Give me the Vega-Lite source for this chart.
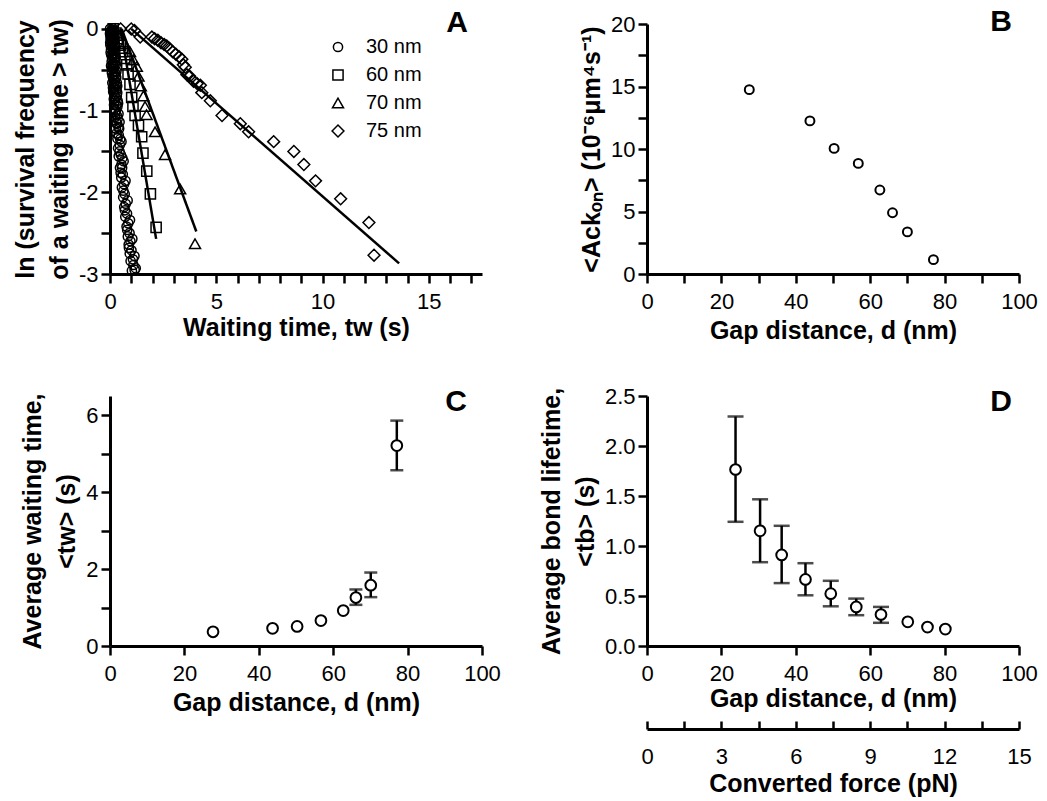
{
  "$schema": "https://vega.github.io/schema/vega-lite/v6.json",
  "padding": {"left": 13, "top": 7, "right": 5, "bottom": 5},
  "background": "white",
  "bounds": "flush",
  "columns": 2,
  "spacing": {"row": 122, "column": 165},
  "config": {
    "font": "Liberation Sans",
    "view": {"stroke": null},
    "axis": {
      "domainColor": "black", "domainWidth": 3, "tickColor": "black", "tickWidth": 2.5, "tickSize": 9,
      "labelFontSize": 22, "labelColor": "black", "labelPadding": 5, "labelFont": "Liberation Sans",
      "titleFontSize": 25, "titleFontWeight": "bold", "titleColor": "black", "titleFont": "Liberation Sans",
      "grid": false, "labelFlush": false, "labelOverlap": false, "titleLineHeight": 34, "titlePadding": 10
    },
    "axisX": {"labelPadding": 8, "titlePadding": 6},
    "axisY": {"labelPadding": 3, "titlePadding": 6},
    "title": {"fontSize": 30, "fontWeight": "bold", "anchor": "end", "frame": "group", "baseline": "alphabetic", "color": "black", "font": "Liberation Sans"}
  },
  "datasets": {
    "surv": [
      {"series": "30 nm", "t": 0.00, "y": 0.00}, {"series": "30 nm", "t": 0.10, "y": -0.01}, {"series": "30 nm", "t": 0.20, "y": -0.02},
      {"series": "30 nm", "t": 0.05, "y": -0.02}, {"series": "30 nm", "t": 0.15, "y": -0.05}, {"series": "30 nm", "t": 0.01, "y": -0.04},
      {"series": "30 nm", "t": 0.11, "y": -0.07}, {"series": "30 nm", "t": 0.07, "y": -0.09}, {"series": "30 nm", "t": 0.22, "y": -0.10},
      {"series": "30 nm", "t": 0.17, "y": -0.12}, {"series": "30 nm", "t": 0.03, "y": -0.13}, {"series": "30 nm", "t": 0.13, "y": -0.17},
      {"series": "30 nm", "t": 0.09, "y": -0.19}, {"series": "30 nm", "t": 0.24, "y": -0.21}, {"series": "30 nm", "t": 0.20, "y": -0.23},
      {"series": "30 nm", "t": 0.05, "y": -0.25}, {"series": "30 nm", "t": 0.16, "y": -0.30}, {"series": "30 nm", "t": 0.11, "y": -0.33},
      {"series": "30 nm", "t": 0.27, "y": -0.35}, {"series": "30 nm", "t": 0.22, "y": -0.38}, {"series": "30 nm", "t": 0.08, "y": -0.40},
      {"series": "30 nm", "t": 0.19, "y": -0.46}, {"series": "30 nm", "t": 0.14, "y": -0.49}, {"series": "30 nm", "t": 0.30, "y": -0.52},
      {"series": "30 nm", "t": 0.26, "y": -0.55}, {"series": "30 nm", "t": 0.12, "y": -0.58}, {"series": "30 nm", "t": 0.23, "y": -0.64},
      {"series": "30 nm", "t": 0.18, "y": -0.67}, {"series": "30 nm", "t": 0.34, "y": -0.70}, {"series": "30 nm", "t": 0.30, "y": -0.74},
      {"series": "30 nm", "t": 0.15, "y": -0.77}, {"series": "30 nm", "t": 0.27, "y": -0.84}, {"series": "30 nm", "t": 0.24, "y": -0.88},
      {"series": "30 nm", "t": 0.38, "y": -0.91}, {"series": "30 nm", "t": 0.35, "y": -0.95}, {"series": "30 nm", "t": 0.20, "y": -0.98},
      {"series": "30 nm", "t": 0.25, "y": -1.02}, {"series": "30 nm", "t": 0.32, "y": -1.06}, {"series": "30 nm", "t": 0.36, "y": -1.10},
      {"series": "30 nm", "t": 0.45, "y": -1.14}, {"series": "30 nm", "t": 0.28, "y": -1.22}, {"series": "30 nm", "t": 0.41, "y": -1.30},
      {"series": "30 nm", "t": 0.54, "y": -1.38}, {"series": "30 nm", "t": 0.38, "y": -1.46}, {"series": "30 nm", "t": 0.51, "y": -1.54},
      {"series": "30 nm", "t": 0.64, "y": -1.62}, {"series": "30 nm", "t": 0.47, "y": -1.70}, {"series": "30 nm", "t": 0.60, "y": -1.78},
      {"series": "30 nm", "t": 0.73, "y": -1.86}, {"series": "30 nm", "t": 0.56, "y": -1.94}, {"series": "30 nm", "t": 0.69, "y": -2.02},
      {"series": "30 nm", "t": 0.83, "y": -2.10}, {"series": "30 nm", "t": 0.67, "y": -2.18}, {"series": "30 nm", "t": 0.80, "y": -2.26},
      {"series": "30 nm", "t": 0.94, "y": -2.34}, {"series": "30 nm", "t": 0.78, "y": -2.42}, {"series": "30 nm", "t": 0.92, "y": -2.50},
      {"series": "30 nm", "t": 1.05, "y": -2.57}, {"series": "30 nm", "t": 0.88, "y": -2.64}, {"series": "30 nm", "t": 1.01, "y": -2.71},
      {"series": "30 nm", "t": 1.15, "y": -2.78}, {"series": "30 nm", "t": 0.97, "y": -2.84}, {"series": "30 nm", "t": 1.10, "y": -2.89},
      {"series": "30 nm", "t": 1.21, "y": -2.93}, {"series": "30 nm", "t": 1.03, "y": -2.96},
      {"series": "30 nm", "t": 0.06, "y": -0.03}, {"series": "30 nm", "t": 0.18, "y": -0.06}, {"series": "30 nm", "t": 0.14, "y": -0.08},
      {"series": "30 nm", "t": 0.04, "y": -0.11}, {"series": "30 nm", "t": 0.19, "y": -0.15}, {"series": "30 nm", "t": 0.10, "y": -0.16},
      {"series": "30 nm", "t": 0.02, "y": -0.20}, {"series": "30 nm", "t": 0.25, "y": -0.27}, {"series": "30 nm", "t": 0.14, "y": -0.27},
      {"series": "30 nm", "t": 0.06, "y": -0.32}, {"series": "30 nm", "t": 0.21, "y": -0.34}, {"series": "30 nm", "t": 0.16, "y": -0.42},
      {"series": "30 nm", "t": 0.27, "y": -0.44}, {"series": "30 nm", "t": 0.09, "y": -0.48}, {"series": "30 nm", "t": 0.21, "y": -0.52},
      {"series": "30 nm", "t": 0.29, "y": -0.60}, {"series": "30 nm", "t": 0.16, "y": -0.62}, {"series": "30 nm", "t": 0.26, "y": -0.69},
      {"series": "30 nm", "t": 0.21, "y": -0.80}, {"series": "30 nm", "t": 0.32, "y": -0.82}, {"series": "30 nm", "t": 0.18, "y": -0.86},
      {"series": "30 nm", "t": 0.30, "y": -0.93}, {"series": "30 nm", "t": 0.28, "y": -1.00}, {"series": "30 nm", "t": 0.40, "y": -1.04},
      {"series": "30 nm", "t": 0.34, "y": -1.16}, {"series": "30 nm", "t": 0.40, "y": -1.20}, {"series": "30 nm", "t": 0.35, "y": -1.34},
      {"series": "30 nm", "t": 0.48, "y": -1.35}, {"series": "30 nm", "t": 0.45, "y": -1.50}, {"series": "30 nm", "t": 0.58, "y": -1.58},
      {"series": "30 nm", "t": 0.54, "y": -1.66}, {"series": "30 nm", "t": 0.53, "y": -1.82}, {"series": "30 nm", "t": 0.66, "y": -1.90},
      {"series": "30 nm", "t": 0.62, "y": -2.06}, {"series": "30 nm", "t": 0.74, "y": -2.14}, {"series": "30 nm", "t": 0.72, "y": -2.30},
      {"series": "30 nm", "t": 0.86, "y": -2.38}, {"series": "30 nm", "t": 0.84, "y": -2.54}, {"series": "30 nm", "t": 0.96, "y": -2.60},
      {"series": "30 nm", "t": 0.93, "y": -2.75}, {"series": "30 nm", "t": 1.08, "y": -2.82}, {"series": "30 nm", "t": 1.16, "y": -2.95},
      {"series": "30 nm", "t": 0.00, "y": -0.06}, {"series": "30 nm", "t": 0.08, "y": -0.05}, {"series": "30 nm", "t": 0.12, "y": -0.03},
      {"series": "30 nm", "t": 0.16, "y": -0.09}, {"series": "30 nm", "t": 0.02, "y": -0.08}, {"series": "30 nm", "t": 0.21, "y": -0.14},
      {"series": "30 nm", "t": 0.06, "y": -0.15}, {"series": "30 nm", "t": 0.12, "y": -0.22}, {"series": "30 nm", "t": 0.23, "y": -0.18},
      {"series": "30 nm", "t": 0.01, "y": -0.17}, {"series": "30 nm", "t": 0.18, "y": -0.26}, {"series": "30 nm", "t": 0.03, "y": -0.29},
      {"series": "30 nm", "t": 0.10, "y": -0.36}, {"series": "30 nm", "t": 0.24, "y": -0.31}, {"series": "30 nm", "t": 0.13, "y": -0.44},
      {"series": "30 nm", "t": 0.25, "y": -0.41}, {"series": "30 nm", "t": 0.05, "y": -0.45}, {"series": "30 nm", "t": 0.18, "y": -0.56},
      {"series": "30 nm", "t": 0.28, "y": -0.58}, {"series": "30 nm", "t": 0.09, "y": -0.54}, {"series": "30 nm", "t": 0.21, "y": -0.72},
      {"series": "30 nm", "t": 0.32, "y": -0.66}, {"series": "30 nm", "t": 0.11, "y": -0.66}, {"series": "30 nm", "t": 0.14, "y": -0.72},
      {"series": "30 nm", "t": 0.19, "y": -0.93}, {"series": "30 nm", "t": 0.34, "y": -0.78}, {"series": "30 nm", "t": 0.36, "y": -0.88},
      {"series": "30 nm", "t": 0.23, "y": -1.08}, {"series": "30 nm", "t": 0.30, "y": -1.15}, {"series": "30 nm", "t": 0.43, "y": -1.22},
      {"series": "30 nm", "t": 0.31, "y": -1.28}, {"series": "30 nm", "t": 0.46, "y": -1.42}, {"series": "30 nm", "t": 0.41, "y": -1.56},
      {"series": "30 nm", "t": 0.57, "y": -1.70}, {"series": "30 nm", "t": 0.50, "y": -1.76}, {"series": "30 nm", "t": 0.63, "y": -1.98},
      {"series": "30 nm", "t": 0.70, "y": -2.22}, {"series": "30 nm", "t": 0.81, "y": -2.46}, {"series": "30 nm", "t": 0.89, "y": -2.68},
      {"series": "60 nm", "t": 0.15, "y": 0.00}, {"series": "60 nm", "t": 0.28, "y": -0.05}, {"series": "60 nm", "t": 0.40, "y": -0.12},
      {"series": "60 nm", "t": 0.50, "y": -0.20}, {"series": "60 nm", "t": 0.60, "y": -0.28}, {"series": "60 nm", "t": 0.70, "y": -0.36},
      {"series": "60 nm", "t": 0.79, "y": -0.44}, {"series": "60 nm", "t": 0.85, "y": -0.55}, {"series": "60 nm", "t": 0.94, "y": -0.68},
      {"series": "60 nm", "t": 1.02, "y": -0.84}, {"series": "60 nm", "t": 1.08, "y": -0.95}, {"series": "60 nm", "t": 1.18, "y": -1.06},
      {"series": "60 nm", "t": 1.34, "y": -1.18}, {"series": "60 nm", "t": 1.49, "y": -1.32}, {"series": "60 nm", "t": 1.55, "y": -1.52},
      {"series": "60 nm", "t": 1.73, "y": -1.74}, {"series": "60 nm", "t": 1.90, "y": -2.02}, {"series": "60 nm", "t": 2.17, "y": -2.43},
      {"series": "70 nm", "t": 0.25, "y": 0.00}, {"series": "70 nm", "t": 0.45, "y": -0.08}, {"series": "70 nm", "t": 0.70, "y": -0.18},
      {"series": "70 nm", "t": 0.94, "y": -0.28}, {"series": "70 nm", "t": 1.10, "y": -0.38}, {"series": "70 nm", "t": 1.26, "y": -0.46},
      {"series": "70 nm", "t": 1.34, "y": -0.58}, {"series": "70 nm", "t": 1.45, "y": -0.70}, {"series": "70 nm", "t": 1.57, "y": -0.82},
      {"series": "70 nm", "t": 1.65, "y": -0.95}, {"series": "70 nm", "t": 1.72, "y": -1.05}, {"series": "70 nm", "t": 2.12, "y": -1.26},
      {"series": "70 nm", "t": 2.59, "y": -1.54}, {"series": "70 nm", "t": 3.30, "y": -1.96}, {"series": "70 nm", "t": 4.00, "y": -2.63},
      {"series": "75 nm", "t": 0.50, "y": 0.00}, {"series": "75 nm", "t": 1.00, "y": 0.00}, {"series": "75 nm", "t": 1.15, "y": -0.02},
      {"series": "75 nm", "t": 1.42, "y": -0.10}, {"series": "75 nm", "t": 1.97, "y": -0.10}, {"series": "75 nm", "t": 2.10, "y": -0.12},
      {"series": "75 nm", "t": 2.25, "y": -0.14}, {"series": "75 nm", "t": 2.40, "y": -0.17}, {"series": "75 nm", "t": 2.55, "y": -0.19},
      {"series": "75 nm", "t": 2.67, "y": -0.21}, {"series": "75 nm", "t": 2.80, "y": -0.24}, {"series": "75 nm", "t": 2.95, "y": -0.28},
      {"series": "75 nm", "t": 3.10, "y": -0.31}, {"series": "75 nm", "t": 3.25, "y": -0.34}, {"series": "75 nm", "t": 3.38, "y": -0.37},
      {"series": "75 nm", "t": 3.45, "y": -0.44}, {"series": "75 nm", "t": 3.54, "y": -0.47}, {"series": "75 nm", "t": 3.62, "y": -0.56},
      {"series": "75 nm", "t": 3.75, "y": -0.58}, {"series": "75 nm", "t": 3.93, "y": -0.64}, {"series": "75 nm", "t": 4.10, "y": -0.67},
      {"series": "75 nm", "t": 4.25, "y": -0.69}, {"series": "75 nm", "t": 4.32, "y": -0.78}, {"series": "75 nm", "t": 4.72, "y": -0.88},
      {"series": "75 nm", "t": 5.27, "y": -1.06}, {"series": "75 nm", "t": 6.13, "y": -1.16}, {"series": "75 nm", "t": 6.52, "y": -1.26},
      {"series": "75 nm", "t": 7.70, "y": -1.38}, {"series": "75 nm", "t": 8.65, "y": -1.50}, {"series": "75 nm", "t": 9.12, "y": -1.66},
      {"series": "75 nm", "t": 9.67, "y": -1.86}, {"series": "75 nm", "t": 10.85, "y": -2.08}, {"series": "75 nm", "t": 12.18, "y": -2.37},
      {"series": "75 nm", "t": 12.42, "y": -2.77}
    ],
    "fits": [
      {"series": "60 nm", "t": 0.50, "y": 0.00}, {"series": "60 nm", "t": 2.17, "y": -2.57},
      {"series": "70 nm", "t": 0.55, "y": 0.00}, {"series": "70 nm", "t": 4.06, "y": -2.48},
      {"series": "75 nm", "t": 1.00, "y": 0.00}, {"series": "75 nm", "t": 13.60, "y": -2.87}
    ],
    "kon": [
      {"d": 27.5, "v": 14.75}, {"d": 43.8, "v": 12.25}, {"d": 50.3, "v": 10.05}, {"d": 56.8, "v": 8.85},
      {"d": 62.6, "v": 6.72}, {"d": 66.0, "v": 4.9}, {"d": 70.0, "v": 3.37}, {"d": 77.0, "v": 1.15}
    ],
    "wait": [
      {"d": 27.7, "v": 0.37, "lo": null, "hi": null}, {"d": 43.7, "v": 0.46, "lo": null, "hi": null},
      {"d": 50.3, "v": 0.51, "lo": null, "hi": null}, {"d": 56.7, "v": 0.66, "lo": null, "hi": null},
      {"d": 62.7, "v": 0.92, "lo": null, "hi": null}, {"d": 66.1, "v": 1.26, "lo": 1.07, "hi": 1.47},
      {"d": 70.1, "v": 1.58, "lo": 1.27, "hi": 1.91}, {"d": 77.1, "v": 5.21, "lo": 4.57, "hi": 5.86}
    ],
    "life": [
      {"d": 23.8, "v": 1.765, "lo": 1.242, "hi": 2.295}, {"d": 30.4, "v": 1.152, "lo": 0.838, "hi": 1.467},
      {"d": 36.2, "v": 0.911, "lo": 0.629, "hi": 1.202}, {"d": 42.6, "v": 0.666, "lo": 0.507, "hi": 0.828},
      {"d": 49.4, "v": 0.523, "lo": 0.397, "hi": 0.652}, {"d": 56.25, "v": 0.391, "lo": 0.308, "hi": 0.474},
      {"d": 62.9, "v": 0.315, "lo": 0.232, "hi": 0.391}, {"d": 70.1, "v": 0.242, "lo": null, "hi": null},
      {"d": 75.4, "v": 0.189, "lo": null, "hi": null}, {"d": 80.2, "v": 0.169, "lo": null, "hi": null}
    ],
    "force": [{"f": 0, "v": 0}, {"f": 15, "v": 0}]
  },
  "concat": [
    {
      "width": 372, "height": 250,
      "title": {"text": "A", "offset": -20, "dx": -14},
      "layer": [
        {
          "data": {"name": "fits"},
          "mark": {"type": "line", "color": "black", "strokeWidth": 2.5},
          "encoding": {
            "x": {"field": "t", "type": "quantitative", "scale": {"domain": [0, 17.5], "nice": false},
              "axis": {"values": [0,5,10,15], "title": "Waiting time, tw (s)", "titlePadding": 3}},
            "y": {"field": "y", "type": "quantitative", "scale": {"domain": [-3, 0.06], "nice": false, "zero": false},
              "axis": {"values": [-3,-2.5,-2,-1.5,-1,-0.5,0], "labelExpr": "datum.value % 1 === 0 ? '' + datum.value : ''", "title": ["ln (survival frequency", "of a waiting time > tw)"]}},
            "detail": {"field": "series", "type": "nominal"}
          }
        },
        {
          "data": {"name": "surv"},
          "mark": {"type": "point", "filled": false, "color": "black", "strokeWidth": 1.5, "opacity": 1},
          "encoding": {
            "x": {"field": "t", "type": "quantitative",
              "axis": {"orient": "bottom", "values": [1,2,3,4,6,7,8,9,11,12,13,14,16,17], "labels": false, "title": null, "domain": false}},
            "y": {"field": "y", "type": "quantitative"},
            "shape": {"field": "series", "type": "nominal",
              "scale": {"domain": ["30 nm", "60 nm", "70 nm", "75 nm"], "range": ["circle", "square", "triangle-up", "diamond"]},
              "legend": {"orient": "none", "legendX": 218, "legendY": 13, "title": null, "labelFontSize": 20, "labelColor": "black", "symbolStrokeWidth": 1.5, "symbolStrokeColor": "black", "symbolFillColor": "transparent", "rowPadding": 8, "labelOffset": 18, "padding": 0}},
            "size": {"field": "series", "type": "nominal",
              "scale": {"domain": ["30 nm", "60 nm", "70 nm", "75 nm"], "range": [85, 140, 150, 170]}}
          }
        }
      ],
      "resolve": {"axis": {"x": "independent"}}
    },
    {
      "width": 372, "height": 250,
      "title": {"text": "B", "offset": -24, "dx": -7},
      "data": {"name": "kon"},
      "mark": {"type": "point", "shape": "circle", "filled": true, "fill": "white", "stroke": "black", "strokeWidth": 2, "size": 80, "opacity": 1},
      "encoding": {
        "x": {"field": "d", "type": "quantitative", "scale": {"domain": [0, 100], "nice": false},
          "axis": {"values": [0,10,20,30,40,50,60,70,80,90,100], "labelExpr": "datum.value % 20 === 0 ? '' + datum.value : ''", "title": "Gap distance, d (nm)"}},
        "y": {"field": "v", "type": "quantitative", "scale": {"domain": [0, 20], "nice": false},
          "axis": {"values": [0,2.5,5,7.5,10,12.5,15,17.5,20], "labelExpr": "datum.value % 5 === 0 ? '' + datum.value : ''", "title": "<Ackₒₙ> (10⁻⁶μm⁴s⁻¹)"}}
      }
    },
    {
      "width": 372, "height": 250,
      "title": {"text": "C", "offset": -24, "dx": -15},
      "data": {"name": "wait"},
      "layer": [
        {
          "transform": [{"filter": "isValid(datum.lo)"}],
          "mark": {"type": "rule", "color": "black", "strokeWidth": 2.5},
          "encoding": {
            "x": {"field": "d", "type": "quantitative", "scale": {"domain": [0, 100], "nice": false},
              "axis": {"values": [0,10,20,30,40,50,60,70,80,90,100], "labelExpr": "datum.value % 20 === 0 ? '' + datum.value : ''", "title": "Gap distance, d (nm)"}},
            "y": {"field": "lo", "type": "quantitative", "scale": {"domain": [0, 6.5], "nice": false},
              "axis": {"values": [0,1,2,3,4,5,6], "labelExpr": "datum.value % 2 === 0 ? '' + datum.value : ''", "title": ["Average waiting time,", "<tw> (s)"]}},
            "y2": {"field": "hi"}
          }
        },
        {
          "transform": [{"filter": "isValid(datum.lo)"}],
          "mark": {"type": "tick", "orient": "horizontal", "color": "black", "size": 13, "thickness": 2.5},
          "encoding": {"x": {"field": "d", "type": "quantitative"}, "y": {"field": "lo", "type": "quantitative"}}
        },
        {
          "transform": [{"filter": "isValid(datum.hi)"}],
          "mark": {"type": "tick", "orient": "horizontal", "color": "black", "size": 13, "thickness": 2.5},
          "encoding": {"x": {"field": "d", "type": "quantitative"}, "y": {"field": "hi", "type": "quantitative"}}
        },
        {
          "mark": {"type": "point", "shape": "circle", "filled": true, "fill": "white", "stroke": "black", "strokeWidth": 2, "size": 115, "opacity": 1},
          "encoding": {"x": {"field": "d", "type": "quantitative"}, "y": {"field": "v", "type": "quantitative"}}
        }
      ]
    },
    {
      "width": 372, "height": 250,
      "title": {"text": "D", "offset": -32, "dx": -7},
      "layer": [
        {
          "data": {"name": "life"},
          "layer": [
            {
              "transform": [{"filter": "isValid(datum.lo)"}],
              "mark": {"type": "rule", "color": "black", "strokeWidth": 2.5},
              "encoding": {
                "x": {"field": "d", "type": "quantitative", "scale": {"domain": [0, 100], "nice": false},
                  "axis": {"values": [0,10,20,30,40,50,60,70,80,90,100], "labelExpr": "datum.value % 20 === 0 ? '' + datum.value : ''", "title": "Gap distance, d (nm)", "titlePadding": 2}},
                "y": {"field": "lo", "type": "quantitative", "scale": {"domain": [0, 2.5], "nice": false},
                  "axis": {"values": [0,0.25,0.5,0.75,1,1.25,1.5,1.75,2,2.25,2.5], "labelExpr": "(datum.value * 2) % 1 === 0 ? format(datum.value, '.1f') : ''", "title": ["Average bond lifetime,", "<tb> (s)"]}},
                "y2": {"field": "hi"}
              }
            },
            {
              "transform": [{"filter": "isValid(datum.lo)"}],
              "mark": {"type": "tick", "orient": "horizontal", "color": "black", "size": 16, "thickness": 2.5},
              "encoding": {"x": {"field": "d", "type": "quantitative"}, "y": {"field": "lo", "type": "quantitative"}}
            },
            {
              "transform": [{"filter": "isValid(datum.hi)"}],
              "mark": {"type": "tick", "orient": "horizontal", "color": "black", "size": 16, "thickness": 2.5},
              "encoding": {"x": {"field": "d", "type": "quantitative"}, "y": {"field": "hi", "type": "quantitative"}}
            },
            {
              "mark": {"type": "point", "shape": "circle", "filled": true, "fill": "white", "stroke": "black", "strokeWidth": 2, "size": 115, "opacity": 1},
              "encoding": {"x": {"field": "d", "type": "quantitative"}, "y": {"field": "v", "type": "quantitative"}}
            }
          ]
        },
        {
          "data": {"name": "force"},
          "mark": {"type": "point", "opacity": 0},
          "encoding": {
            "x": {"field": "f", "type": "quantitative", "scale": {"domain": [0, 15], "nice": false},
              "axis": {"orient": "bottom", "offset": 83, "values": [0,1.5,3,4.5,6,7.5,9,10.5,12,13.5,15], "labelExpr": "datum.value % 3 === 0 ? '' + datum.value : ''", "title": "Converted force (pN)", "tickSize": -8, "labelPadding": 25, "titlePadding": 4}},
            "y": {"field": "v", "type": "quantitative"}
          }
        }
      ],
      "resolve": {"scale": {"x": "independent"}, "axis": {"x": "independent"}}
    }
  ]
}
